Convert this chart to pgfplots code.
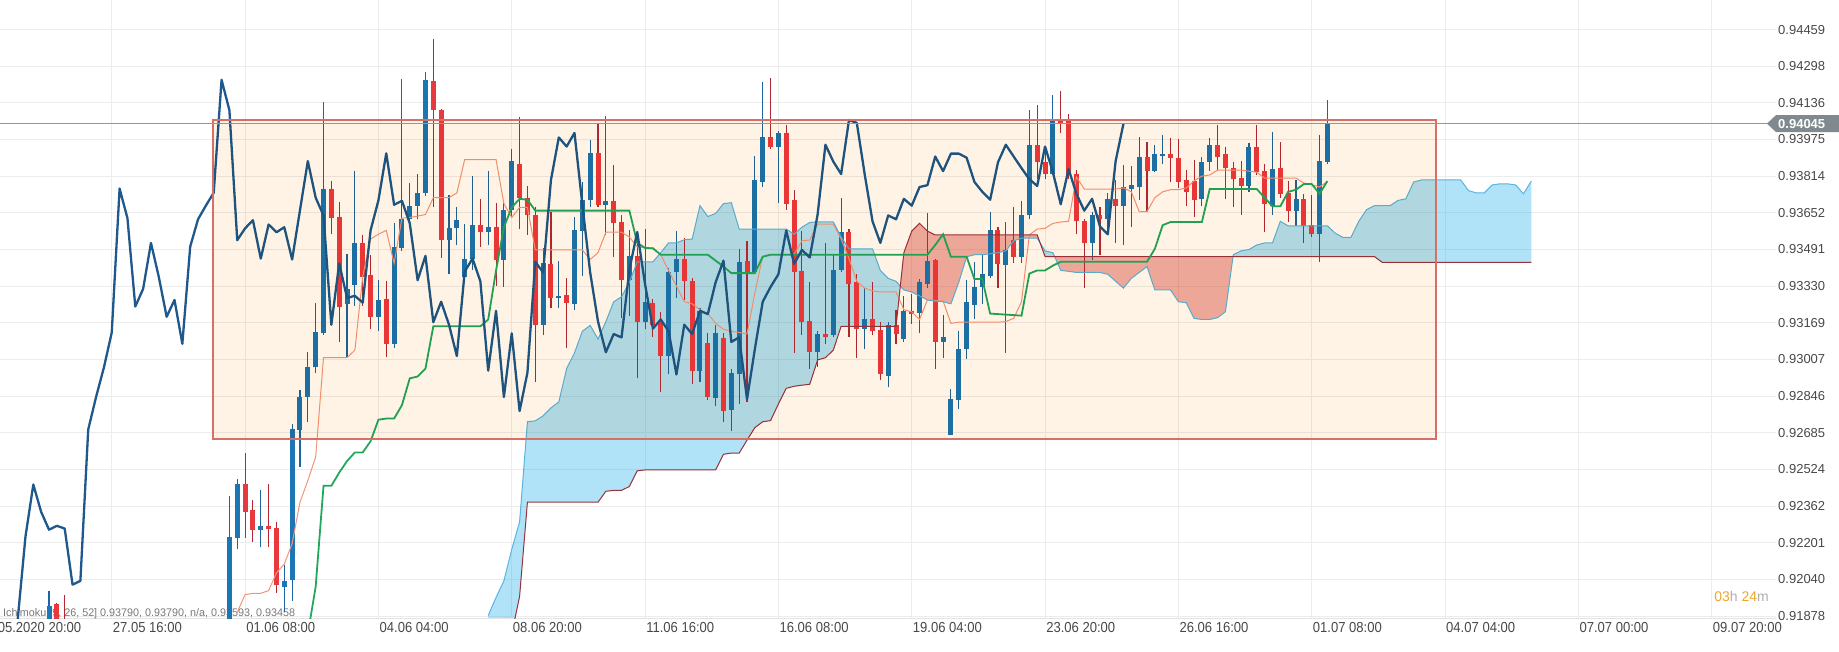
\documentclass[border=0pt]{standalone}
\usepackage{pgfplots}
\pgfplotsset{compat=1.18}
\usepackage{pgfplotstable}
\usepgfplotslibrary{fillbetween}
\usepackage{fontspec}
\setmainfont{Liberation Sans}
\newfontfamily\condfont{Liberation Sans}[FakeStretch=0.9]
\newfontfamily\legfont{Liberation Sans}[FakeStretch=0.98]

\definecolor{cloudA}{RGB}{29,172,235}
\definecolor{cloudB}{RGB}{206,30,10}
\definecolor{rectfill}{RGB}{255,243,230}
\definecolor{rectborder}{RGB}{214,112,102}
\definecolor{candleup}{RGB}{28,117,180}
\definecolor{candledn}{RGB}{232,57,62}
\definecolor{wickup}{RGB}{30,100,160}
\definecolor{wickdn}{RGB}{175,40,50}
\definecolor{chikou}{RGB}{30,88,140}
\definecolor{tenkan}{RGB}{240,150,120}
\definecolor{kijun}{RGB}{34,168,92}
\definecolor{spanAline}{RGB}{90,180,225}
\definecolor{spanBline}{RGB}{150,50,60}
\definecolor{pricec}{RGB}{150,150,150}
\definecolor{tagc}{RGB}{128,138,142}
\definecolor{gridc}{RGB}{236,236,236}
\definecolor{labc}{RGB}{72,72,72}
\definecolor{legc}{RGB}{120,120,120}
\definecolor{timero}{RGB}{240,165,40}
\definecolor{timerg}{RGB}{175,175,175}

\pgfplotstableread{
i O H L C
-23 0.91800 0.91990 0.91780 0.91921
0 0.91840 0.92405 0.91800 0.92228
1 0.92223 0.92483 0.92171 0.92457
4 0.92258 0.92431 0.92180 0.92275
7 0.92007 0.92102 0.91895 0.92033
8 0.92036 0.92725 0.91946 0.92699
9 0.92695 0.92872 0.92534 0.92842
10 0.92842 0.93041 0.92733 0.92972
11 0.92972 0.93255 0.92949 0.93126
12 0.93122 0.94139 0.93114 0.93759
15 0.93249 0.93472 0.93019 0.93318
16 0.93335 0.93835 0.93243 0.93520
19 0.93195 0.93356 0.93131 0.93269
21 0.93076 0.93606 0.93057 0.93503
22 0.93499 0.94243 0.93485 0.93624
23 0.93624 0.93783 0.93615 0.93684
24 0.93684 0.93823 0.93624 0.93741
25 0.93740 0.94272 0.93728 0.94238
28 0.93532 0.93733 0.93382 0.93584
29 0.93584 0.93676 0.93511 0.93620
30 0.93368 0.93603 0.93347 0.93451
31 0.93451 0.93814 0.93399 0.93601
33 0.93568 0.93835 0.93511 0.93589
35 0.93447 0.93710 0.93325 0.93664
36 0.93664 0.93932 0.93632 0.93880
40 0.93160 0.93499 0.93114 0.93430
42 0.93278 0.93442 0.93235 0.93287
44 0.93252 0.93632 0.93226 0.93575
45 0.93572 0.93786 0.93373 0.93707
46 0.93707 0.93975 0.93676 0.93914
48 0.93688 0.94077 0.93555 0.93705
51 0.93356 0.93575 0.93200 0.93463
53 0.93171 0.93581 0.93140 0.93261
56 0.93022 0.93408 0.92941 0.93394
57 0.93390 0.93572 0.93278 0.93451
60 0.92958 0.93235 0.92906 0.93221
62 0.92837 0.93157 0.92802 0.93122
64 0.92785 0.92967 0.92694 0.92949
65 0.92941 0.93494 0.92811 0.93437
67 0.93390 0.93904 0.93382 0.93797
68 0.93788 0.94229 0.93766 0.93984
70 0.93944 0.94013 0.93696 0.94004
75 0.93039 0.93131 0.92975 0.93119
77 0.93114 0.93468 0.93105 0.93402
78 0.93402 0.93719 0.93390 0.93568
81 0.93143 0.93321 0.93053 0.93183
84 0.92936 0.93171 0.92884 0.93160
86 0.93096 0.93287 0.93084 0.93221
88 0.93212 0.93361 0.93122 0.93347
89 0.93338 0.93650 0.93321 0.93442
91 0.93084 0.93204 0.93015 0.93105
92 0.92676 0.92877 0.92673 0.92832
93 0.92828 0.93134 0.92790 0.93053
94 0.93053 0.93356 0.93010 0.93261
95 0.93247 0.93437 0.93183 0.93326
96 0.93326 0.93468 0.93252 0.93382
97 0.93373 0.93658 0.93364 0.93575
99 0.93421 0.93610 0.93036 0.93489
101 0.93456 0.93705 0.93430 0.93645
102 0.93641 0.94103 0.93624 0.93952
105 0.93823 0.94172 0.93817 0.94061
110 0.93520 0.93658 0.93447 0.93641
112 0.93624 0.93741 0.93572 0.93714
114 0.93684 0.93862 0.93511 0.93766
115 0.93759 0.93857 0.93589 0.93774
116 0.93766 0.93987 0.93710 0.93900
118 0.93836 0.93952 0.93831 0.93913
119 0.93904 0.93996 0.93866 0.93913
124 0.93714 0.93900 0.93684 0.93875
125 0.93875 0.93982 0.93835 0.93952
130 0.93771 0.93961 0.93745 0.93944
133 0.93681 0.94009 0.93645 0.93845
136 0.93662 0.93797 0.93593 0.93714
139 0.93558 0.93996 0.93437 0.93880
140 0.93875 0.94151 0.93866 0.94045
}\upc

\pgfplotstableread{
i O H L C
-22 0.91929 0.91937 0.91780 0.91800
-21 0.91850 0.91972 0.91780 0.91820
2 0.92457 0.92595 0.92223 0.92336
3 0.92344 0.92388 0.92206 0.92258
5 0.92275 0.92457 0.92180 0.92263
6 0.92266 0.92292 0.91981 0.92016
13 0.93759 0.93792 0.93558 0.93629
14 0.93636 0.93702 0.93083 0.93240
17 0.93520 0.93555 0.93243 0.93370
18 0.93377 0.93468 0.93140 0.93195
20 0.93275 0.93351 0.93019 0.93076
26 0.94232 0.94419 0.93676 0.94104
27 0.94104 0.94108 0.93454 0.93532
32 0.93601 0.93714 0.93503 0.93567
34 0.93589 0.93696 0.93330 0.93447
37 0.93866 0.94073 0.93581 0.93719
38 0.93719 0.93771 0.93555 0.93641
39 0.93641 0.93676 0.92906 0.93160
41 0.93428 0.93658 0.93235 0.93278
43 0.93292 0.93364 0.93057 0.93257
47 0.93914 0.94047 0.93676 0.93688
49 0.93705 0.93862 0.93460 0.93606
50 0.93610 0.93645 0.93191 0.93356
52 0.93463 0.93572 0.92924 0.93171
54 0.93257 0.93275 0.93105 0.93160
55 0.93171 0.93217 0.92863 0.93022
58 0.93451 0.93541 0.93269 0.93351
59 0.93354 0.93364 0.92898 0.92958
61 0.93079 0.93122 0.92828 0.92842
63 0.93102 0.93122 0.92733 0.92780
66 0.93442 0.93529 0.92820 0.93390
69 0.93987 0.94246 0.93935 0.93944
71 0.94004 0.94039 0.93667 0.93690
72 0.93707 0.93754 0.93036 0.93390
73 0.93395 0.93572 0.93114 0.93174
74 0.93178 0.93347 0.92967 0.93039
76 0.93119 0.93520 0.93074 0.93104
79 0.93568 0.93581 0.93105 0.93338
80 0.93347 0.93382 0.93015 0.93143
82 0.93183 0.93347 0.93114 0.93131
83 0.93136 0.93174 0.92915 0.92941
85 0.93157 0.93226 0.93074 0.93119
87 0.93221 0.93295 0.93164 0.93207
90 0.93446 0.93451 0.92967 0.93084
98 0.93575 0.93589 0.93321 0.93428
100 0.93532 0.93679 0.93430 0.93456
103 0.93952 0.94129 0.93800 0.93878
104 0.93878 0.93947 0.93800 0.93823
106 0.94061 0.94189 0.94004 0.94048
107 0.94061 0.94087 0.93800 0.93823
108 0.93823 0.93840 0.93558 0.93615
109 0.93615 0.93624 0.93321 0.93520
111 0.93641 0.93676 0.93468 0.93624
113 0.93714 0.93797 0.93520 0.93684
117 0.93900 0.93964 0.93658 0.93836
120 0.93913 0.93982 0.93788 0.93895
121 0.93895 0.93978 0.93762 0.93788
122 0.93797 0.93840 0.93684 0.93745
123 0.93792 0.93887 0.93636 0.93710
126 0.93952 0.94039 0.93840 0.93900
127 0.93913 0.93944 0.93714 0.93849
128 0.93849 0.93875 0.93679 0.93800
129 0.93805 0.93880 0.93645 0.93771
131 0.93944 0.94039 0.93817 0.93831
132 0.93835 0.93869 0.93567 0.93690
134 0.93849 0.93966 0.93719 0.93736
135 0.93740 0.93792 0.93610 0.93662
137 0.93714 0.93736 0.93520 0.93593
138 0.93601 0.93731 0.93546 0.93558
}\dnc

% lagging span: closes plotted 26 bars back
\pgfplotstableread{
x v
-29 0.91700
-28 0.91750
-27 0.91860
-26 0.92228
-25 0.92457
-24 0.92336
-23 0.92258
-22 0.92275
-21 0.92263
-20 0.92016
-19 0.92033
-18 0.92699
-17 0.92842
-16 0.92972
-15 0.93126
-14 0.93759
-13 0.93629
-12 0.93240
-11 0.93318
-10 0.93520
-9 0.93370
-8 0.93195
-7 0.93269
-6 0.93076
-5 0.93503
-4 0.93624
-3 0.93684
-2 0.93741
-1 0.94238
0 0.94104
1 0.93532
2 0.93584
3 0.93620
4 0.93451
5 0.93601
6 0.93567
7 0.93589
8 0.93447
9 0.93664
10 0.93880
11 0.93719
12 0.93641
13 0.93160
14 0.93430
15 0.93278
16 0.93287
17 0.93257
18 0.93575
19 0.93707
20 0.93914
21 0.93688
22 0.93705
23 0.93606
24 0.93356
25 0.93463
26 0.93171
27 0.93261
28 0.93160
29 0.93022
30 0.93394
31 0.93451
32 0.93351
33 0.92958
34 0.93221
35 0.92842
36 0.93122
37 0.92780
38 0.92949
39 0.93437
40 0.93390
41 0.93797
42 0.93984
43 0.93944
44 0.94004
45 0.93690
46 0.93390
47 0.93174
48 0.93039
49 0.93119
50 0.93104
51 0.93402
52 0.93568
53 0.93338
54 0.93143
55 0.93183
56 0.93131
57 0.92941
58 0.93160
59 0.93119
60 0.93221
61 0.93207
62 0.93347
63 0.93442
64 0.93084
65 0.93105
66 0.92832
67 0.93053
68 0.93261
69 0.93326
70 0.93382
71 0.93575
72 0.93428
73 0.93489
74 0.93456
75 0.93645
76 0.93952
77 0.93878
78 0.93823
79 0.94061
80 0.94048
81 0.93823
82 0.93615
83 0.93520
84 0.93641
85 0.93624
86 0.93714
87 0.93684
88 0.93766
89 0.93774
90 0.93900
91 0.93836
92 0.93913
93 0.93913
94 0.93895
95 0.93788
96 0.93745
97 0.93710
98 0.93875
99 0.93952
100 0.93900
101 0.93849
102 0.93800
103 0.93771
104 0.93944
105 0.93831
106 0.93690
107 0.93845
108 0.93736
109 0.93662
110 0.93714
111 0.93593
112 0.93558
113 0.93880
114 0.94045
}\chik

\pgfplotstableread{
x v
1 0.91895
2 0.91972
3 0.91978
4 0.91978
5 0.91990
6 0.92068
7 0.92107
8 0.92197
9 0.92379
10 0.92474
11 0.92578
12 0.93015
15 0.93015
16 0.93048
17 0.93373
18 0.93537
19 0.93558
20 0.93575
21 0.93430
22 0.93629
23 0.93632
24 0.93638
25 0.93645
26 0.93719
28 0.93719
29 0.93740
30 0.93887
34 0.93887
35 0.93693
36 0.93632
37 0.93676
38 0.93676
39 0.93489
45 0.93489
46 0.93447
47 0.93477
48 0.93567
50 0.93567
51 0.93546
52 0.93503
53 0.93498
54 0.93498
55 0.93468
56 0.93399
57 0.93330
58 0.93261
59 0.93252
60 0.93226
61 0.93209
62 0.93166
63 0.93140
64 0.93131
65 0.93126
66 0.93119
67 0.93299
68 0.93462
69 0.93470
72 0.93470
73 0.93529
74 0.93533
75 0.93603
77 0.93603
78 0.93537
79 0.93451
80 0.93351
81 0.93321
82 0.93309
83 0.93304
85 0.93304
86 0.93226
87 0.93217
88 0.93183
89 0.93269
91 0.93264
92 0.93166
93 0.93171
98 0.93171
99 0.93174
100 0.93188
101 0.93261
102 0.93555
103 0.93581
104 0.93584
105 0.93606
106 0.93612
107 0.93615
108 0.93810
109 0.93757
113 0.93757
114 0.93762
115 0.93745
116 0.93658
117 0.93658
118 0.93719
119 0.93745
120 0.93754
121 0.93754
122 0.93762
123 0.93793
124 0.93814
125 0.93819
126 0.93840
129 0.93840
130 0.93836
131 0.93831
132 0.93805
136 0.93805
137 0.93783
138 0.93776
139 0.93766
140 0.93790
}\tenk

\pgfplotstableread{
x v
10 0.91800
11 0.92007
12 0.92451
13 0.92451
14 0.92509
15 0.92560
16 0.92598
17 0.92598
18 0.92647
19 0.92742
20 0.92747
21 0.92747
22 0.92806
23 0.92924
24 0.92932
25 0.92967
26 0.93153
32 0.93153
33 0.93183
34 0.93399
35 0.93589
36 0.93676
37 0.93714
38 0.93710
39 0.93662
51 0.93662
52 0.93520
53 0.93498
54 0.93496
55 0.93468
61 0.93468
62 0.93442
63 0.93416
64 0.93387
67 0.93387
68 0.93459
69 0.93468
89 0.93468
90 0.93511
91 0.93558
92 0.93459
94 0.93459
95 0.93361
96 0.93361
97 0.93209
101 0.93200
102 0.93385
103 0.93399
104 0.93399
105 0.93420
106 0.93437
117 0.93437
118 0.93494
119 0.93598
120 0.93612
124 0.93612
125 0.93757
131 0.93757
132 0.93719
133 0.93681
134 0.93681
135 0.93745
136 0.93754
137 0.93779
138 0.93779
139 0.93736
140 0.93792
}\kij

\pgfplotstableread{
x v
33 0.91880
34 0.91960
35 0.92033
36 0.92171
37 0.92292
38 0.92733
39 0.92737
40 0.92759
41 0.92794
42 0.92820
43 0.92967
44 0.93036
45 0.93131
46 0.93157
47 0.93097
48 0.93174
49 0.93261
50 0.93283
51 0.93347
52 0.93437
54 0.93437
55 0.93477
56 0.93520
57 0.93520
58 0.93534
59 0.93537
60 0.93684
61 0.93636
62 0.93650
63 0.93693
64 0.93697
65 0.93581
71 0.93581
72 0.93558
73 0.93589
74 0.93610
75 0.93613
77 0.93613
78 0.93546
79 0.93494
82 0.93494
83 0.93399
84 0.93364
85 0.93351
86 0.93313
87 0.93304
88 0.93287
89 0.93269
90 0.93264
91 0.93261
92 0.93252
93 0.93347
94 0.93459
95 0.93468
96 0.93468
97 0.93472
98 0.93477
99 0.93485
100 0.93529
101 0.93541
103 0.93541
104 0.93485
105 0.93477
106 0.93399
107 0.93395
108 0.93390
111 0.93390
112 0.93382
113 0.93351
114 0.93321
115 0.93364
116 0.93390
117 0.93416
118 0.93313
120 0.93313
121 0.93261
122 0.93257
123 0.93188
124 0.93183
125 0.93183
126 0.93191
127 0.93217
128 0.93468
129 0.93485
130 0.93491
131 0.93511
132 0.93520
133 0.93520
134 0.93615
135 0.93595
140 0.93595
141 0.93563
142 0.93544
143 0.93544
144 0.93615
145 0.93667
146 0.93684
148 0.93684
149 0.93707
150 0.93714
151 0.93788
152 0.93797
157 0.93797
158 0.93750
159 0.93740
160 0.93740
161 0.93775
162 0.93780
163 0.93780
164 0.93775
165 0.93736
166 0.93792
}\spanA

\pgfplotstableread{
x v
33 0.91700
35 0.91700
36 0.91800
37 0.91964
38 0.92379
47 0.92379
48 0.92427
49 0.92431
50 0.92431
51 0.92448
52 0.92517
53 0.92521
62 0.92521
63 0.92590
64 0.92595
65 0.92595
66 0.92652
67 0.92707
68 0.92733
69 0.92738
70 0.92811
71 0.92880
72 0.92889
73 0.92894
74 0.92898
75 0.93005
76 0.93015
77 0.93048
78 0.93153
85 0.93153
86 0.93477
87 0.93572
88 0.93606
89 0.93572
90 0.93555
103 0.93555
104 0.93460
146 0.93460
147 0.93434
166 0.93434
}\spanB

\begin{document}
\begin{tikzpicture}
\begin{axis}[
  at={(0pt,651pt)}, anchor=north west,
  scale only axis, width=1776pt, height=619pt,
  xmin=-29.25, xmax=197.2, ymin=0.91865, ymax=0.94589,
  axis line style={draw=none},
  major tick length=0pt,
  scaled x ticks=false, scaled y ticks=false,
  grid=major, major grid style={draw=gridc, line width=1pt},
  xtick={-15,2,19,36,53,70,87,104,121,138,155,172,189},
  xticklabels={27.05 16:00,01.06 08:00,04.06 04:00,08.06 20:00,11.06 16:00,16.06 08:00,19.06 04:00,23.06 20:00,26.06 16:00,01.07 08:00,04.07 04:00,07.07 00:00,09.07 20:00},
  xticklabel style={anchor=north west, inner sep=0pt, xshift=1pt, yshift=-3pt, text=labc, font=\condfont\fontsize{14.5pt}{16pt}\selectfont},
  ytick={0.91878,0.92040,0.92201,0.92362,0.92524,0.92685,0.92846,0.93007,0.93169,0.93330,0.93491,0.93652,0.93814,0.93975,0.94136,0.94298,0.94459},
  yticklabels={0.91878,0.92040,0.92201,0.92362,0.92524,0.92685,0.92846,0.93007,0.93169,0.93330,0.93491,0.93652,0.93814,0.93975,0.94136,0.94298,0.94459},
  yticklabel pos=right,
  yticklabel style={anchor=west, inner sep=0pt, xshift=2pt, text=labc, font=\fontsize{13pt}{15pt}\selectfont},
]
% bottom line
\draw[gray!22, line width=1pt] (rel axis cs:0,0) -- (rel axis cs:1,0);
% indicator caption
\node[anchor=base west, inner sep=0pt, text=legc, font=\legfont\fontsize{11pt}{13pt}\selectfont] at (axis cs:-28.87,0.91876) {Ichimoku [9, 26, 52] 0.93790, 0.93790, n/a, 0.93593, 0.93458};

% candles: wicks
\addplot[draw=none, mark=none, error bars/.cd, y dir=plus, y explicit, error mark=none,
  error bar style={draw=wickup, line width=1.1pt}]
  table[x=i, y=L, y error plus expr=\thisrow{H}-\thisrow{L}] {\upc};
\addplot[draw=none, mark=none, error bars/.cd, y dir=plus, y explicit, error mark=none,
  error bar style={draw=wickdn, line width=1.1pt}]
  table[x=i, y=L, y error plus expr=\thisrow{H}-\thisrow{L}] {\dnc};
% candles: bodies
\addplot[draw=none, mark=none, error bars/.cd, y dir=plus, y explicit, error mark=none,
  error bar style={draw=candleup, line width=5pt}]
  table[x=i, y=O, y error plus expr=\thisrow{C}-\thisrow{O}] {\upc};
\addplot[draw=none, mark=none, error bars/.cd, y dir=plus, y explicit, error mark=none,
  error bar style={draw=candledn, line width=5pt}]
  table[x=i, y=C, y error plus expr=\thisrow{O}-\thisrow{C}] {\dnc};

% conversion line
\addplot[tenkan, line width=1pt, mark=none] table[x=x, y=v] {\tenk};

% cloud
\addplot[draw=none, mark=none, name path=A] table[x=x, y=v] {\spanA};
\addplot[draw=none, mark=none, name path=B] table[x=x, y=v] {\spanB};
\addplot[fill opacity=0.35] fill between[of=A and B, split,
  every even segment/.style={fill=cloudA},
  every odd segment/.style={fill=cloudB}];
\addplot[spanAline, line width=1pt, mark=none] table[x=x, y=v] {\spanA};
\addplot[spanBline, line width=1pt, mark=none] table[x=x, y=v] {\spanB};

% base line
\addplot[kijun, line width=1.8pt, mark=none] table[x=x, y=v] {\kij};
% lagging span
\addplot[chikou, line width=2.3pt, mark=none, line join=round] table[x=x, y=v] {\chik};

% range rectangle
\addplot[draw=none, fill=rectfill, blend mode=multiply, mark=none] coordinates {(-2.1,0.92658) (153.9,0.92658) (153.9,0.94063) (-2.1,0.94063)};
\addplot[rectborder, line width=2pt, mark=none, line join=miter] coordinates {(-2.1,0.92658) (153.9,0.92658) (153.9,0.94063) (-2.1,0.94063) (-2.1,0.92658) (153.9,0.92658)};

% current price line
\addplot[pricec, line width=1.2pt, mark=none] coordinates {(-30,0.94045) (198,0.94045)};

% timer
\node[anchor=east, inner sep=0pt, font=\fontsize{14pt}{16pt}\selectfont] at (axis cs:196.3,0.91962) {\textcolor{timero}{03}\textcolor{timerg}{h} \textcolor{timero}{24}\textcolor{timerg}{m}};

\coordinate (lab0) at (axis cs:-32,0.91865);
\coordinate (tag) at (axis cs:197.2,0.94045);
\end{axis}
\node[anchor=north west, inner sep=0pt, text=labc, font=\condfont\fontsize{14.5pt}{16pt}\selectfont] at ([xshift=1pt,yshift=-3pt]lab0) {24.05.2020 20:00};
\fill[tagc] ([xshift=-9pt]tag) -- ++(9pt,8.5pt) -- ++(70pt,0pt) -- ++(0pt,-17pt) -- ++(-70pt,0pt) -- cycle;
\node[anchor=west, inner sep=0pt, text=white, font=\bfseries\fontsize{13pt}{15pt}\selectfont] at ([xshift=2pt]tag) {0.94045};
\pgfresetboundingbox
\path[use as bounding box] (0pt,0pt) rectangle (1839pt,651pt);
\end{tikzpicture}
\end{document}
